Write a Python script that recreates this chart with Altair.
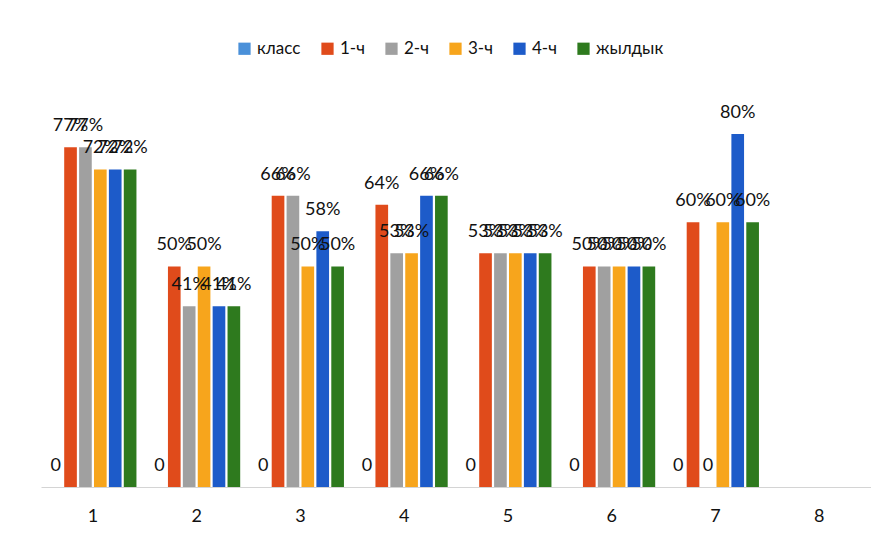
import altair as alt
import pandas as pd

categories = [1, 2, 3, 4, 5, 6, 7, 8]
series = ["класс", "1-ч", "2-ч", "3-ч", "4-ч", "жылдык"]
klass = [0, 0, 0, 0, 0, 0, 0, None]
ch1 = [77, 50, 66, 64, 53, 50, 60, None]
ch2 = [77, 41, 66, 53, 53, 50, 0, None]
ch3 = [72, 50, 50, 53, 53, 50, 60, None]
ch4 = [72, 41, 58, 66, 53, 50, 80, None]
year = [72, 41, 50, 66, 53, 50, 60, None]
colors = ["#4A90D9", "#E04B1B", "#A0A0A0", "#F7A51C", "#1D5BC9", "#2E7A1E"]

rows = []
for s, vals in zip(series, [klass, ch1, ch2, ch3, ch4, year]):
    for c, v in zip(categories, vals):
        if v is not None:
            rows.append({"c": c, "s": s, "v": v})
df = pd.DataFrame(rows)

FONT = "Lato"

base = alt.Chart(df).transform_calculate(
    lbl="datum.v == 0 ? '0' : datum.v + '%'"
).encode(
    x=alt.X("c:O", scale=alt.Scale(domain=categories, paddingInner=0.16, paddingOuter=0.08),
            axis=alt.Axis(title=None, ticks=False, labelAngle=0, labelFontSize=18,
                          labelPadding=20, labelColor="#111", labelFont=FONT,
                          domainColor="#d4d4d4")),
    xOffset=alt.XOffset("s:N", sort=series, scale=alt.Scale(domain=series, paddingInner=0.15)),
)

bars = base.mark_bar().encode(
    y=alt.Y("v:Q", scale=alt.Scale(domain=[0, 90]), axis=None),
    color=alt.Color("s:N", scale=alt.Scale(domain=series, range=colors),
                    legend=alt.Legend(title=None, orient="none", direction="horizontal",
                                      legendX=195, legendY=-50, symbolType="square",
                                      symbolSize=150, labelFontSize=17, labelFont=FONT,
                                      labelColor="#111", columnPadding=18,
                                      symbolStrokeWidth=0)),
)

labels = base.mark_text(baseline="bottom", dy=-12, fontSize=18, font=FONT, color="#111").encode(
    y=alt.Y("v:Q", scale=alt.Scale(domain=[0, 90])),
    text="lbl:N",
)

chart = alt.layer(bars, labels).properties(
    width=830, height=397,
    autosize=alt.AutoSizeParams(type="none"),
    padding={"left": 33, "top": 82, "right": 0, "bottom": 47},
).configure_view(stroke=None)

chart.save("out.html", embed_options={"renderer": "svg", "actions": False})
